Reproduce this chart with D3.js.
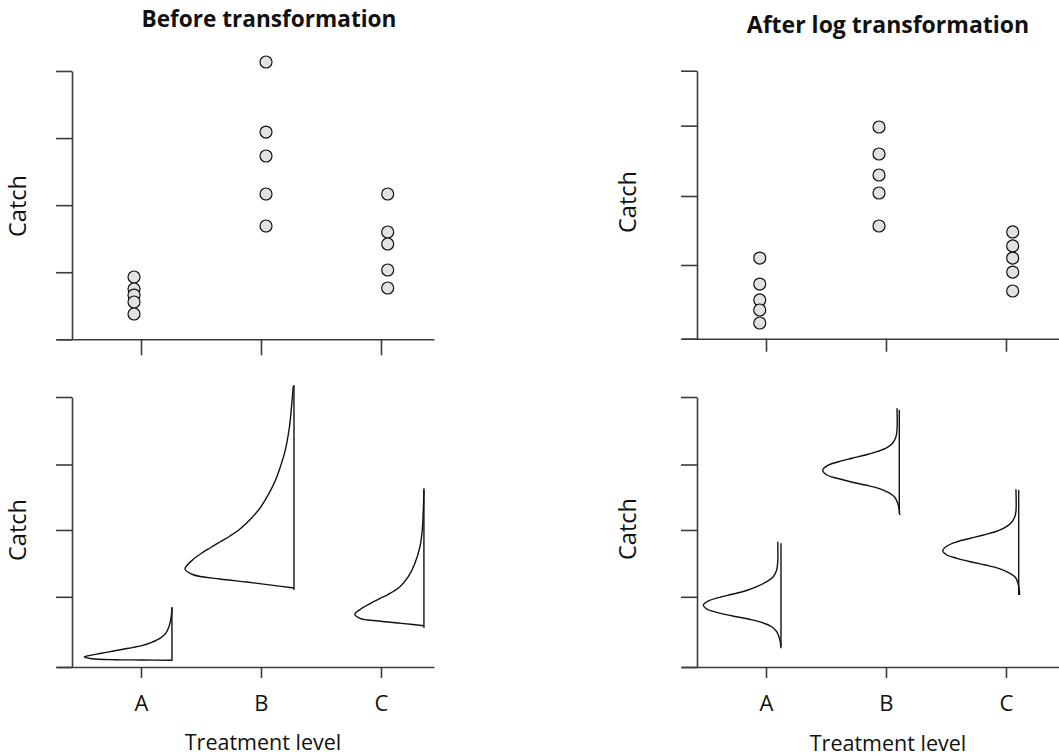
<!DOCTYPE html>
<html><head><meta charset="utf-8">
<script src="https://cdn.jsdelivr.net/npm/d3@7"></script>
<style>body{margin:0;background:#fff} svg{display:block}</style>
</head><body><svg id="chart" width="1059" height="756"></svg>
<script>
// ---------- data ----------
const categories = ["A", "B", "C"];
const categoryPos = [1, 2, 3];

// top panels: individual catches (points)
const beforePointX = [0.942, 2.042, 3.056];
const beforeCatchA = [0.929, 0.750, 0.660, 0.556, 0.377];
const beforeCatchB = [4.134, 3.090, 2.733, 2.166, 1.689];
const beforeCatchC = [2.166, 1.600, 1.421, 1.033, 0.765];

const afterPointX = [0.948, 1.942, 3.056];
const afterCatchA = [1.204, 0.816, 0.578, 0.428, 0.234];
const afterCatchB = [3.160, 2.757, 2.443, 2.175, 1.682];
const afterCatchC = [1.593, 1.384, 1.204, 0.995, 0.712];

// bottom panels: distribution outlines, [treatment position, catch]
const beforeCurveA = [[1.258,0.870],[1.25,0.721],[1.233,0.597],[1.206,0.499],[1.158,0.425],[1.089,0.366],[1.006,0.316],[0.894,0.277],[0.783,0.241],[0.673,0.203],[0.575,0.173],[0.528,0.148],[0.589,0.123],[0.783,0.108],[1.006,0.104],[1.256,0.099]];
const beforeCurveB = [[2.269,4.159],[2.256,3.886],[2.236,3.541],[2.2,3.195],[2.158,2.948],[2.117,2.751],[2.061,2.553],[1.992,2.356],[1.908,2.182],[1.825,2.044],[1.742,1.941],[1.658,1.852],[1.575,1.763],[1.492,1.670],[1.436,1.596],[1.367,1.452],[1.436,1.367],[1.658,1.304],[1.881,1.259],[2.103,1.210],[2.275,1.170]];
const beforeCurveC = [[3.358,2.622],[3.353,2.326],[3.344,2.030],[3.325,1.784],[3.283,1.536],[3.228,1.338],[3.158,1.190],[3.061,1.077],[2.978,1.003],[2.894,0.925],[2.825,0.850],[2.783,0.781],[2.825,0.721],[2.978,0.681],[3.172,0.647],[3.358,0.612]];
// vertical baselines: [position, top catch, bottom catch]
const beforeCurveBase = [[1.258,0.889,0.089],[2.275,4.178,1.141],[3.358,2.647,0.578]];

const afterCurveA = [[1.098,1.856],[1.098,1.564],[1.089,1.437],[1.061,1.338],[1.006,1.264],[0.923,1.190],[0.825,1.126],[0.714,1.077],[0.603,1.027],[0.519,0.978],[0.478,0.919],[0.506,0.859],[0.589,0.810],[0.714,0.760],[0.853,0.711],[0.964,0.662],[1.048,0.597],[1.089,0.523],[1.108,0.449],[1.119,0.375],[1.125,0.277]];
const afterCurveB = [[2.092,3.833],[2.092,3.511],[2.083,3.412],[2.058,3.323],[2.008,3.249],[1.925,3.190],[1.828,3.141],[1.717,3.092],[1.606,3.041],[1.523,2.993],[1.473,2.919],[1.508,2.844],[1.592,2.796],[1.703,2.745],[1.828,2.696],[1.939,2.647],[2.023,2.582],[2.073,2.514],[2.098,2.425],[2.111,2.326],[2.114,2.252]];
const afterCurveC = [[3.083,2.633],[3.083,2.301],[3.072,2.218],[3.044,2.138],[2.994,2.070],[2.911,2.004],[2.814,1.956],[2.703,1.907],[2.592,1.856],[2.508,1.793],[2.473,1.723],[2.508,1.659],[2.592,1.610],[2.703,1.560],[2.828,1.511],[2.939,1.462],[3.023,1.397],[3.078,1.329],[3.1,1.240],[3.111,1.141],[3.114,1.067]];
const afterCurveBase = [[1.125,1.833,0.301],[2.111,3.807,2.277],[3.106,2.622,1.067]];

const beforeTopTicks = [0, 1, 2, 3, 4];
const afterTopTicks = [0, 1.1, 2.13, 3.18, 4];
const bottomTicks = [0, 1.04, 2.03, 3, 4];

const titles = ["Before transformation", "After log transformation"];
const yTitle = "Catch";
const xTitle = "Treatment level";

// ---------- drawing ----------
const svg = d3.select("#chart");
const FONT = "'Open Sans', 'Noto Sans', sans-serif";
const AX = "#3c3c3c";

function makePanel(xr, yr, yTicks, xTickLen, showLabels) {
  const x = d3.scaleLinear().domain([0.3, 3.442]).range(xr);
  const y = d3.scaleLinear().domain([0, 4]).range(yr);
  const g = svg.append("g");
  const ya = g.append("g").attr("transform", `translate(${x(0.425)},0)`)
    .call(d3.axisLeft(y).tickValues(yTicks).tickSize(16).tickSizeOuter(0).tickFormat(""));
  const xa = g.append("g").attr("transform", `translate(0,${y(0)})`)
    .call(d3.axisBottom(x).tickValues(categoryPos).tickSize(xTickLen).tickSizeOuter(0)
      .tickPadding(17).tickFormat((d, i) => showLabels ? categories[i] : ""));
  [ya, xa].forEach(a => {
    a.selectAll("path.domain").attr("stroke", AX).attr("stroke-width", 1.6);
    a.selectAll(".tick line").attr("stroke", AX).attr("stroke-width", 1.6);
  });
  xa.selectAll(".tick text").attr("font-family", FONT).attr("font-size", 22).attr("fill", "#111");
  return { x, y, g };
}

function drawPoints(p, xs, sets) {
  sets.forEach((vals, i) => {
    p.g.selectAll(null).data(vals).enter().append("circle")
      .attr("cx", p.x(xs[i])).attr("cy", d => p.y(d)).attr("r", 6)
      .attr("fill", "#e2e2e2").attr("stroke", "#111").attr("stroke-width", 1.2);
  });
}

function drawCurves(p, curves, bases) {
  const line = d3.line().x(d => p.x(d[0])).y(d => p.y(d[1])).curve(d3.curveCatmullRom.alpha(0.5));
  curves.forEach(c => {
    p.g.append("path").attr("d", line(c)).attr("fill", "none")
      .attr("stroke", "#111").attr("stroke-width", 1.4).attr("stroke-linejoin", "round");
  });
  bases.forEach(b => {
    p.g.append("line").attr("x1", p.x(b[0])).attr("x2", p.x(b[0]))
      .attr("y1", p.y(b[1])).attr("y2", p.y(b[2]))
      .attr("stroke", "#111").attr("stroke-width", 1.4);
  });
}

const tl = makePanel([57, 434], [339.3, 71], beforeTopTicks, 16, false);
const tr = makePanel([682, 1059], [338.7, 70.7], afterTopTicks, 13, false);
const bl = makePanel([57, 434], [667, 397], bottomTicks, 11, true);
const br = makePanel([682, 1059], [667, 397], bottomTicks, 11, true);

drawPoints(tl, beforePointX, [beforeCatchA, beforeCatchB, beforeCatchC]);
drawPoints(tr, afterPointX, [afterCatchA, afterCatchB, afterCatchC]);
drawCurves(bl, [beforeCurveA, beforeCurveB, beforeCurveC], beforeCurveBase);
drawCurves(br, [afterCurveA, afterCurveB, afterCurveC], afterCurveBase);

// titles
svg.append("text").attr("x", 269).attr("y", 27).attr("text-anchor", "middle")
  .attr("font-family", FONT).attr("font-weight", 700).attr("font-size", 22.6).attr("fill", "#111").text(titles[0]);
svg.append("text").attr("x", 888).attr("y", 33).attr("text-anchor", "middle")
  .attr("font-family", FONT).attr("font-weight", 700).attr("font-size", 23).attr("fill", "#111").text(titles[1]);

// y titles
[[26, 206], [636, 202], [26, 530], [636, 529]].forEach(([px, py]) => {
  svg.append("text").attr("transform", `translate(${px},${py}) rotate(-90)`)
    .attr("text-anchor", "middle").attr("font-family", FONT).attr("font-size", 23.5)
    .attr("fill", "#111").text(yTitle);
});
// x titles
[[263, 750], [888, 751]].forEach(([px, py]) => {
  svg.append("text").attr("x", px).attr("y", py).attr("text-anchor", "middle")
    .attr("font-family", FONT).attr("font-size", 21.5).attr("fill", "#111").text(xTitle);
});
</script>
</body></html>
